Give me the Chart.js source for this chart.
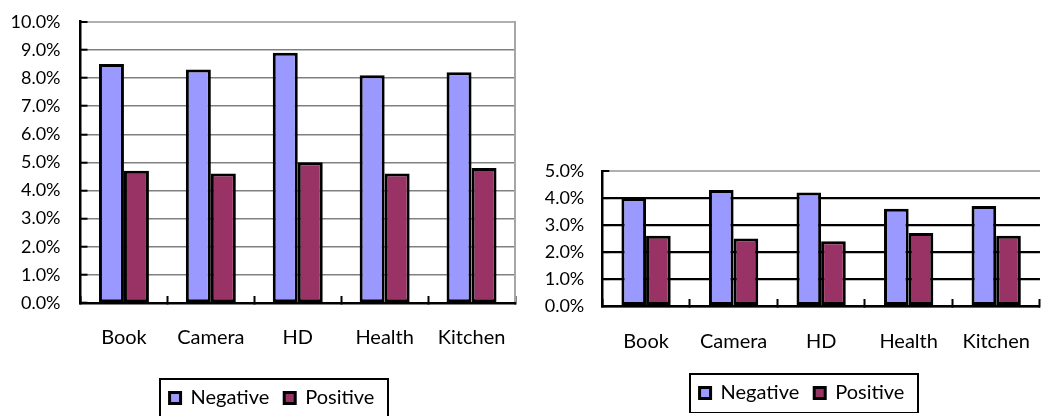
<!DOCTYPE html>
<html><head><meta charset="utf-8">
<script src="https://cdn.jsdelivr.net/npm/chart.js@4.4.1/dist/chart.umd.min.js"></script>
<style>
html,body{margin:0;padding:0;background:#fff;overflow:hidden;width:1053px;height:416px;position:relative;}
canvas{position:absolute;top:0;}
#c1{left:0;} #c2{left:520px;}
</style></head><body>
<canvas id="c1" width="544" height="418"></canvas>
<canvas id="c2" width="541" height="413"></canvas>
<script>
const categories = ['Book', 'Camera', 'HD', 'Health', 'Kitchen'];
const seriesNames = ['Negative', 'Positive'];
const leftNegative = [8.5, 8.3, 8.9, 8.1, 8.2];
const leftPositive = [4.7, 4.6, 5.0, 4.6, 4.8];
const rightNegative = [4.0, 4.3, 4.2, 3.6, 3.7];
const rightPositive = [2.6, 2.5, 2.4, 2.7, 2.6];
const leftTickLabels = ['0.0%', '1.0%', '2.0%', '3.0%', '4.0%', '5.0%', '6.0%', '7.0%', '8.0%', '9.0%', '10.0%'];
const rightTickLabels = ['0.0%', '1.0%', '2.0%', '3.0%', '4.0%', '5.0%'];

const NEG_COLOR = '#9999FF';
const POS_COLOR = '#993366';
const FONT = 'Lato, "Open Sans", sans-serif';

const legendFrame = {
  id: 'legendFrame',
  afterDraw(chart, args, opts) {
    const hb = chart.legend && chart.legend.legendHitBoxes;
    if (!hb || !hb.length) return;
    const c = chart.ctx;
    const first = hb[0], last = hb[hb.length - 1];
    const l = first.left - opts.padL, r = last.left + last.width + opts.padR;
    const cy = first.top + first.height / 2;
    c.save();
    c.strokeStyle = '#000';
    c.lineWidth = 2;
    c.strokeRect(Math.round(l), Math.round(cy - opts.h / 2), Math.round(r - l), opts.h);
    c.restore();
  }
};

function makeChart(id, cfg) {
  const scales = {
    x: {
      grid: { display: true, offset: true, drawOnChartArea: false, drawTicks: true, tickLength: -7, tickColor: '#000', tickWidth: 2 },
      border: { display: true, color: '#000', width: 2.5, z: 1 },
      ticks: { color: '#000', font: { size: 20, family: FONT }, padding: cfg.xPad, maxRotation: 0, autoSkip: false },
      afterFit: s => { s.height = cfg.xH; }
    },
    y: {
      min: 0, max: cfg.max,
      ticks: { stepSize: 1, callback: (v, i) => cfg.tickLabels[i], color: '#000', font: { size: 18, family: FONT }, padding: cfg.yPad },
      grid: {
        color: ctx => (ctx.tick && ctx.tick.value === cfg.max) ? '#b0b0b0' : cfg.gridColor,
        lineWidth: ctx => (ctx.tick && ctx.tick.value === cfg.max) ? 2 : cfg.gridWidth,
        tickColor: '#000', tickWidth: 2, tickLength: -7
      },
      border: { display: true, color: '#000', width: 2.5, z: 1 },
      afterFit: s => { s.width = cfg.yW; s.paddingTop = 12; s.paddingBottom = 12; }
    }
  };
  if (cfg.rightW) {
    scales.yR = {
      type: 'linear', position: 'right', display: true,
      grid: { display: false, drawTicks: false },
      ticks: { display: false, padding: 0 },
      border: { display: true, color: '#a6a6a6', width: 2 },
      afterFit: s => { s.width = cfg.rightW; s.paddingTop = 0; s.paddingBottom = 0; }
    };
  }
  return new Chart(document.getElementById(id), {
    type: 'bar',
    data: {
      labels: categories,
      datasets: [
        { label: seriesNames[0], data: cfg.neg, backgroundColor: NEG_COLOR, borderColor: '#000', borderWidth: 3, borderSkipped: false, inflateAmount: 0 },
        { label: seriesNames[1], data: cfg.pos, backgroundColor: POS_COLOR, borderColor: '#000', borderWidth: 3, borderSkipped: false, inflateAmount: 0 }
      ]
    },
    options: {
      responsive: false, animation: false, devicePixelRatio: 1,
      categoryPercentage: cfg.catPct, barPercentage: 1,
      layout: { padding: { top: cfg.padTop, left: cfg.padLeft, right: 0, bottom: 0 } },
      events: [],
      plugins: {
        legend: { position: 'bottom', labels: { boxWidth: 11, boxHeight: 11, padding: 15, color: '#000', font: { size: 20, family: FONT } } },
        tooltip: { enabled: false },
        legendFrame: cfg.frame
      },
      scales
    },
    plugins: [legendFrame]
  });
}

function build() {
  Chart.defaults.font.family = FONT;
  makeChart('c1', {
    neg: leftNegative, pos: leftPositive, max: 10, tickLabels: leftTickLabels,
    gridColor: '#808080', gridWidth: 1.4, padTop: 21.7, padLeft: 0, yW: 80.5, rightW: 29,
    xH: 70, xPad: 30, yPad: 27, catPct: 0.575, frame: { padL: 10, padR: 13, h: 38 }
  });
  makeChart('c2', {
    neg: rightNegative, pos: rightPositive, max: 5, tickLabels: rightTickLabels,
    gridColor: '#000', gridWidth: 2.2, padTop: 171, padLeft: 23, yW: 59.3, rightW: 0,
    xH: 62, xPad: 31, yPad: 25, catPct: 0.563, frame: { padL: 10, padR: 13, h: 39 }
  });
}
if (document.fonts && document.fonts.load) {
  Promise.all([document.fonts.load('20px Lato'), document.fonts.load('18px Lato')]).then(build, build);
} else { build(); }
</script>
</body></html>
